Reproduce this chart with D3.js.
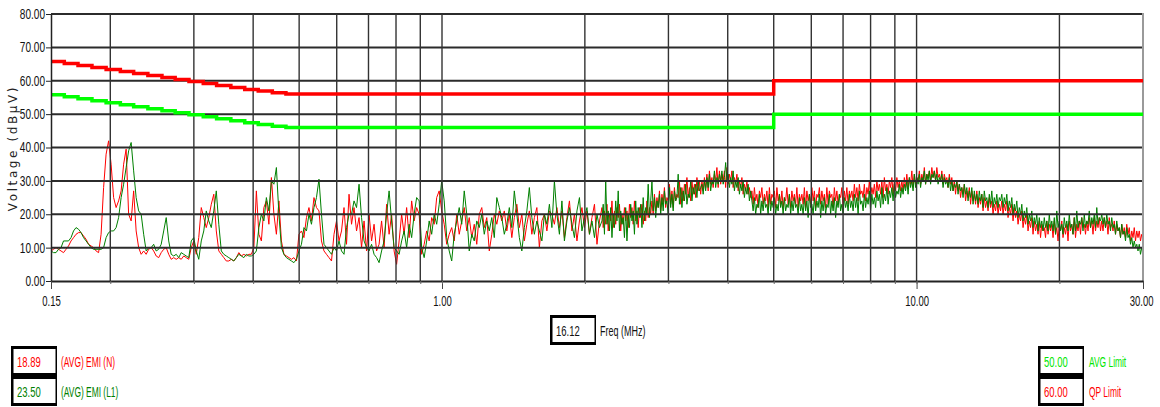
<!DOCTYPE html>
<html><head><meta charset="utf-8">
<script src="https://cdn.jsdelivr.net/npm/d3@7/dist/d3.min.js"></script>
<style>
html,body{margin:0;padding:0;background:#fff;}
svg{display:block;}
text{font-family:"Liberation Sans",Arial,sans-serif;}
</style></head><body>
<svg id="chart" width="1160" height="407"></svg>
<script>
// ---------- data ----------
const freqStart = 0.15, freqStop = 30;          // MHz sweep range
const lowSweepStop = 2.147, highSweepStart = 2.173;
const yTicks = [0, 10, 20, 30, 40, 50, 60, 70, 80];
const yTickLabels = ["0.00","10.00","20.00","30.00","40.00","50.00","60.00","70.00","80.00"];
const xTickValues = [0.15, 1, 10, 30];
const xTickLabels = ["0.15","1.00","10.00","30.00"];
const xGridValues = [0.2,0.3,0.4,0.5,0.6,0.7,0.8,0.9,1,2,3,4,5,6,7,8,9,10,20];

// limit staircase (step-after)
const limitFreq = [0.150,0.160,0.171,0.183,0.196,0.210,0.224,0.240,0.257,0.274,0.293,0.314,0.335,0.359,0.384,0.410,0.439,0.469,5.0,30];
const qpLimit  = [65.8,65.2,64.6,64.0,63.4,62.8,62.2,61.6,61.0,60.4,59.8,59.2,58.6,58.0,57.4,56.9,56.4,56.0,60.0,60.0];
const avgLimit = [55.8,55.2,54.6,54.0,53.4,52.8,52.2,51.6,51.0,50.4,49.8,49.2,48.6,48.0,47.4,46.9,46.4,46.0,50.0,50.0];

// measured traces (dBµV): low band 0.15–2.147 MHz, high band 2.173–30 MHz (log-spaced points)
const emiNLow = [
9,9.5,10,9.5,9,8.5,9.5,10.5,12,13,14,14.5,14.5,13.5,12.5,11,10.5,10,9,8.5,
14,28,38,42,35,25,22,24,27,35,39.5,20,18,27,15,10,8,9,8,9.5,
10,9,7.5,7,8.5,9.5,10,8,6.5,7,6.5,7,6.5,7.5,7,6.5,10,12,8,13,
22,19,16,19,23,26,15,9,8,7,6,6,6.5,6,7,8.5,7.5,8,7.5,8,
8,10,27,14,12,22,24,17,31,20,14,24,12,8,7.5,7,6.5,7,6,14,
15,13,19,22,18,25,22,21,12,9,8,7,6,14,18,12,15,22,11,26,
17,22,15,19,10,18,9,20,12,17,9,11,18,10,23,14,20,9,5,12,
20,14,22,13,24,18,22,20,8,11,15,12,19,17,25,27,21,17,11,14,
16,12,20,14,18,22,15,19,13,17,11,20,22,16,19,9,14,20,17,21,
18,21,15,20,13,19,23,16,20,12,17,21,14,19,22,10,18,20,15,21,
20,17,22,16,21,13,19,24,15,20,12,18,22,16,21,14,19,23,11,18
];
const emiNHigh = [
22,16,21,17,23,15,20,18,24,16,21,17,22,19,23,15,20,17,22,18,21,16,23,19,22,17,24,18,21,16,22,19,23,17,21,18,24,19,22,20,
24,20,26,21,25,22,27,21,26,23,28,22,25,24,29,23,27,22,28,24,26,25,30,23,28,24,29,26,31,25,28,24,30,26,29,25,31,27,30,26,
30,27,31,28,32,27,33,29,31,28,32,30,34,28,33,29,32,30,33,28,34,29,32,30,33,28,31,29,32,27,30,28,31,26,29,27,30,26,28,25,
27,23,28,24,26,22,27,25,28,23,26,24,27,22,28,23,26,25,27,22,28,24,26,23,27,22,25,24,28,23,26,22,27,24,26,23,28,22,26,24,
26,23,28,22,27,24,26,23,28,24,27,22,26,25,28,23,27,24,26,22,28,23,27,25,26,22,28,24,27,23,26,25,28,22,27,24,28,23,27,25,
27,24,29,25,28,24,29,26,27,25,29,24,28,26,30,25,28,26,29,25,30,27,29,26,30,25,31,27,29,26,30,28,31,26,30,27,31,28,30,27,
30,27,31,28,32,28,31,29,33,28,32,29,31,30,33,29,32,30,34,29,32,31,33,30,34,31,33,30,34,31,32,30,33,29,32,30,31,28,32,29,
31,27,30,26,30,27,29,25,28,26,29,24,27,25,28,23,27,24,26,23,27,22,25,23,26,21,25,22,24,21,25,22,24,20,23,21,24,20,23,21,
24,20,23,21,24,19,22,20,23,18,22,19,21,17,20,18,21,16,19,17,20,15,18,16,19,14,18,15,17,14,18,13,17,15,16,13,18,14,17,15,
17,13,18,14,16,12,17,15,18,13,16,14,17,12,18,15,17,14,19,13,17,15,18,14,19,16,17,14,18,15,19,16,18,14,19,15,18,16,19,15,
18,15,19,16,18,14,19,16,17,15,18,14,17,15,16,13,17,14,16,13,17,14,16,12,15,13,16,12,15,13,15,12,14,13
];
const emiL1Low = [
9,8.5,8.5,9.5,10,12,12,12,13,15,16,15.5,14.5,13,12,11,10,9.5,9.5,9.5,
9.5,10,13,14.5,15,15,16,19,25,29,34,39,41.5,33,25,21,20,14,9,10,
10,11,9,9.5,11,15,19,12,8,7.5,8,7,8.5,8,7.5,7,12,13,9,6.5,
12,15,21,18,16,21,27,17,9,8,7.5,7,6.5,6,7,8,7.5,7,8,7.5,
7.5,8,9,16,20,18,25,21,30,29,34,20,10,8,7,6.5,6,5.5,6.5,9,
11,16,15,20,17,22,25,30.5,20,11,10,9,8,10,9,12,9,8,16,20,
20,24,22,29,19,12,10,9,11,8,7,5.5,9,12,20,27,18,10,9,8,
12,15,10,17,13,20,25,24,10,7,12,18,14,20,17,23,30,24,13,9,
6,14,18,22,17,27,20,9,14,12,18,16,20,14,18,15,19,13,25,22,
19,14,17,22,16,27,20,13,9,16,21,28,19,14,18,15,12,20,17,23,
16,30,20,14,24,12,18,22,17,13,21,25,15,19,22,14,18,13,20,16
];
const emiL1High = [
18,23,14,30,17,21,15,22,13,20,16,24,18,27,15,21,17,19,13,22,12,20,16,23,18,21,14,24,17,22,19,23,16,25,18,22,20,29,19,24,
30,21,25,19,24,22,26,20,25,21,27,23,24,20,28,22,26,21,27,24,25,32,23,28,22,27,24,29,23,26,25,30,24,28,26,29,25,30,27,28,
29,26,30,27,31,28,32,27,30,29,33,28,31,29,32,30,33,29,31,35.5,30,32,28,31,29,33,27,30,28,31,26,29,27,30,25,28,26,29,24,27,
24,21,25,20,23,22,26,20,24,21,25,22,23,20,26,21,24,22,25,20,23,21,26,22,24,20,25,21,23,22,26,20,24,21,25,22,23,20,25,21,
23,20,25,21,24,19,26,22,23,20,25,21,24,22,26,19,24,21,25,20,23,22,26,20,24,21,25,19,24,22,26,21,23,20,25,22,24,21,26,22,
24,21,26,22,25,20,27,23,24,21,26,22,25,23,27,21,26,23,25,22,27,24,26,22,28,23,26,24,28,23,27,25,28,24,29,25,27,26,29,25,
28,26,29,27,30,26,31,28,30,27,32,28,31,29,32,28,31,30,33,29,32,30,33,29,32,31,33,30,32,29,31,30,32,28,31,29,30,28,31,27,
30,27,29,28,30,26,29,27,28,25,29,26,28,24,27,25,28,23,27,24,26,23,27,24,26,22,27,24,25,22,26,23,27,22,25,23,26,22,25,24,
26,22,25,23,26,21,24,22,25,20,23,21,24,19,22,20,23,18,21,19,22,17,20,18,21,16,19,17,20,15,19,16,18,15,19,16,18,15,20,16,
18,15,19,14,21,16,18,15,17,14,19,16,18,15,20,16,17,14,19,15,21,16,18,17,19,15,20,16,18,17,21,16,19,17,20,16,22,17,19,18,
20,17,19,16,20,17,18,15,19,16,17,14,18,15,16,13,17,14,15,12,16,13,14,11,13,10,12,10,11,9,11,8,10,8.5
];

const legendLeft = [
  {value:"18.89", label:"(AVG) EMI (N)",  color:"#ff0000"},
  {value:"23.50", label:"(AVG) EMI (L1)", color:"#008000"}
];
const legendRight = [
  {value:"50.00", label:"AVG Limit", color:"#00e600"},
  {value:"60.00", label:"QP Limit",  color:"#ff0000"}
];
const cursorFreq = "16.12";
const xAxisTitle = "Freq (MHz)";
const yAxisTitle = "Voltage (dBµV)";

// ---------- drawing ----------
const svg = d3.select("#chart");
const L = 51, R = 1143, T = 14, B = 281;

const x = d3.scaleLog().domain([freqStart, freqStop]).range([L, R]);
const y = d3.scaleLinear().domain([0, 80]).range([B, T]);

function condense(sel, f) {
  sel.each(function () {
    const w = this.getComputedTextLength();
    this.setAttribute("textLength", (w * f).toFixed(1));
    this.setAttribute("lengthAdjust", "spacingAndGlyphs");
  });
}
function logSweep(a, b, n) {
  return d3.range(n).map(i => a * Math.pow(b / a, i / (n - 1)));
}
const lowF = logSweep(freqStart, lowSweepStop, emiNLow.length);
const highF = logSweep(highSweepStart, freqStop, emiNHigh.length);
const sweep = lowF.concat(highF);
const emiN = emiNLow.concat(emiNHigh);
const emiL1 = emiL1Low.concat(emiL1High);

const line = d3.line().x(d => x(d[0])).y(d => y(d[1]));

// traces
svg.append("path").datum(sweep.map((f, i) => [f, emiN[i]]))
  .attr("d", line).attr("fill", "none").attr("stroke", "#ff0000").attr("stroke-width", 1);
svg.append("path").datum(sweep.map((f, i) => [f, emiL1[i]]))
  .attr("d", line).attr("fill", "none").attr("stroke", "#008000").attr("stroke-width", 1);

// grid
const grid = svg.append("g");
grid.selectAll("line.h").data(yTicks.filter(v => v > 0)).join("line")
  .attr("x1", L).attr("x2", R).attr("y1", d => y(d)).attr("y2", d => y(d))
  .attr("stroke", "#2b2b2b").attr("stroke-width", 2);
grid.selectAll("line.v").data(xGridValues).join("line")
  .attr("x1", d => x(d)).attr("x2", d => x(d)).attr("y1", T).attr("y2", B)
  .attr("stroke", "#333").attr("stroke-width", 1.4);
grid.append("line").attr("x1", R).attr("x2", R).attr("y1", T - 1).attr("y2", B)
  .attr("stroke", "#9a9a9a").attr("stroke-width", 2);

// limits
const stepLine = d3.line().curve(d3.curveStepAfter).x(d => x(d[0])).y(d => y(d[1]));
svg.append("path").datum(limitFreq.map((f, i) => [f, avgLimit[i]]))
  .attr("d", stepLine).attr("fill", "none").attr("stroke", "#00ff00").attr("stroke-width", 3.5);
svg.append("path").datum(limitFreq.map((f, i) => [f, qpLimit[i]]))
  .attr("d", stepLine).attr("fill", "none").attr("stroke", "#ff0000").attr("stroke-width", 3.5);

// y axis
const yAxis = svg.append("g").attr("transform", `translate(${L},0)`)
  .call(d3.axisLeft(y).tickValues(yTicks).tickFormat((d, i) => yTickLabels[i]).tickSize(5).tickSizeOuter(0).tickPadding(1));
yAxis.select(".domain").attr("stroke", "#222").attr("stroke-width", 1.5);
yAxis.selectAll(".tick line").attr("stroke", "#222");
yAxis.selectAll("text").attr("font-size", 14).attr("fill", "#111")
  .style("font-family", '"Liberation Sans", Arial, sans-serif').call(condense, 0.72);

// x axis
const xAxis = svg.append("g").attr("transform", `translate(0,${B})`)
  .call(d3.axisBottom(x).tickValues(xTickValues).tickFormat((d, i) => xTickLabels[i]).tickSize(8).tickSizeOuter(0).tickPadding(7));
xAxis.select(".domain").attr("stroke", "#222").attr("stroke-width", 2);
xAxis.selectAll(".tick line").attr("stroke", "#444");
xAxis.selectAll(".tick").filter(d => d === freqStop).select("text")
  .attr("text-anchor", "end").attr("dx", 10);
xAxis.selectAll("text").attr("font-size", 14).attr("fill", "#111")
  .style("font-family", '"Liberation Sans", Arial, sans-serif').call(condense, 0.68);
const xMinor = svg.append("g").attr("transform", `translate(0,${B})`)
  .call(d3.axisBottom(x).tickValues(xGridValues).tickFormat("").tickSize(3).tickSizeOuter(0));
xMinor.select(".domain").remove();
xMinor.selectAll(".tick line").attr("stroke", "#666");

// y title
svg.append("text").attr("transform", "translate(17,148) rotate(-90)")
  .attr("text-anchor", "middle").attr("font-size", 12).attr("letter-spacing", "2.6px")
  .style("font-family", '"DejaVu Sans", sans-serif').attr("fill", "#222").text(yAxisTitle);

// boxes
function box(bx, by, val, col) {
  svg.append("rect").attr("x", bx).attr("y", by).attr("width", 46).attr("height", 30).attr("fill", "#000");
  svg.append("rect").attr("x", bx + 2.5).attr("y", by + 3).attr("width", 42).attr("height", 24).attr("fill", "#fff");
  svg.append("text").attr("x", bx + 6).attr("y", by + 21).attr("font-size", 15)
    .attr("fill", col).text(val).call(condense, 0.63);
}
box(550, 315, cursorFreq, "#111");
svg.append("text").attr("x", 600).attr("y", 336).attr("font-size", 15)
  .attr("fill", "#111").text(xAxisTitle).call(condense, 0.6);

legendLeft.forEach((d, i) => {
  box(11, 346 + i * 30, d.value, d.color);
  svg.append("text").attr("x", 61).attr("y", 367 + i * 30).attr("font-size", 15)
    .attr("fill", d.color).text(d.label).call(condense, 0.56);
});
legendRight.forEach((d, i) => {
  box(1038, 346 + i * 30, d.value, d.color);
  svg.append("text").attr("x", 1089).attr("y", 367 + i * 30).attr("font-size", 15)
    .attr("fill", d.color).text(d.label).call(condense, 0.56);
});
</script>
</body></html>
